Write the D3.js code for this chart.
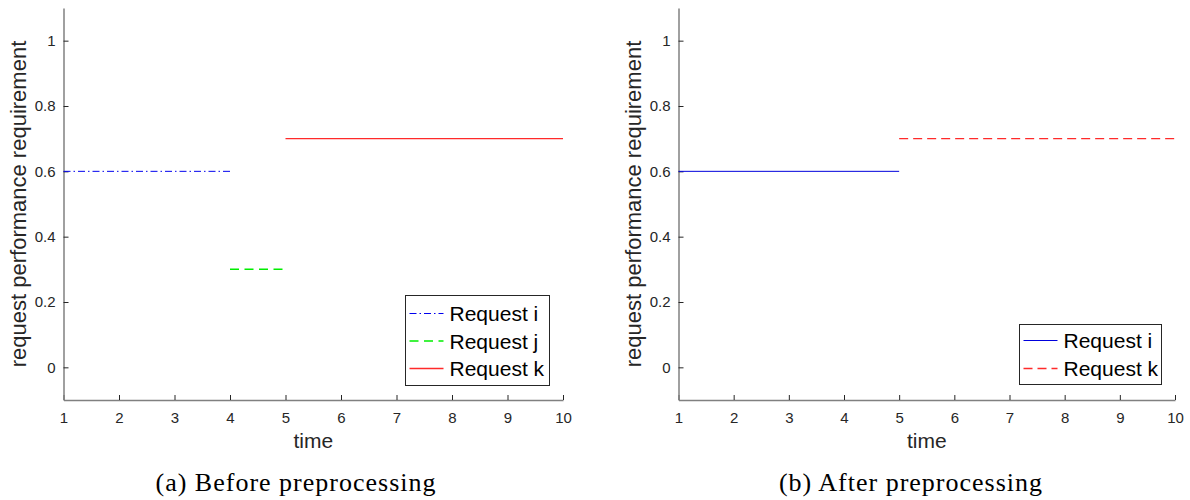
<!DOCTYPE html>
<html>
<head>
<meta charset="utf-8">
<script src="https://cdn.jsdelivr.net/npm/d3@7"></script>
<style>
  html, body { margin: 0; padding: 0; background: #fff; }
  svg { display: block; }
  .tick text { font-family: "Liberation Sans", Arial, sans-serif; font-size: 15px; fill: #262626; }
</style>
</head>
<body>
<svg id="chart" width="1190" height="500"></svg>
<script>
// Time ticks and performance ticks shared by both panels
const xTicks = [1, 2, 3, 4, 5, 6, 7, 8, 9, 10];
const yTicks = [0, 0.2, 0.4, 0.6, 0.8, 1];
const yTickLabels = ["0", "0.2", "0.4", "0.6", "0.8", "1"];

// Panel (a): requests before preprocessing — [start, end] time spans and requirement levels
const beforeNames = ["Request i", "Request j", "Request k"];
const beforeStart = [1, 4, 5];
const beforeEnd = [4, 5, 10];
const beforeLevel = [0.6, 0.3, 0.7];

// Panel (b): requests after preprocessing
const afterNames = ["Request i", "Request k"];
const afterStart = [1, 5];
const afterEnd = [5, 10];
const afterLevel = [0.6, 0.7];

const svg = d3.select("#chart");
const sans = "Liberation Sans, Arial, sans-serif";

function drawPanel(opts) {
  const { left, right, top, bottom, names, starts, ends, levels, styles, legend, caption, captionX } = opts;
  const x = d3.scaleLinear().domain([1, 10]).range([left, right]);
  const y = d3.scaleLinear().domain([-0.1, 1.1]).range([bottom, top]);
  const g = svg.append("g");

  // x axis with inward ticks
  const xAxis = d3.axisBottom(x).tickValues(xTicks).tickSizeInner(-5).tickSizeOuter(0).tickPadding(12)
    .tickFormat(d3.format("d"));
  const gx = g.append("g").attr("transform", `translate(0,${bottom})`).call(xAxis);
  gx.select(".domain").attr("stroke", "#808080").attr("stroke-width", 1.5);
  gx.selectAll(".tick line").attr("stroke", "#262626");

  // y axis with inward ticks
  const yAxis = d3.axisLeft(y).tickValues(yTicks).tickSizeInner(-5).tickSizeOuter(0).tickPadding(8)
    .tickFormat((d, i) => yTickLabels[i]);
  const gy = g.append("g").attr("transform", `translate(${left},0)`).call(yAxis);
  gy.select(".domain").attr("stroke", "#808080").attr("stroke-width", 1.5);
  gy.selectAll(".tick line").attr("stroke", "#262626");

  // axis titles
  g.append("text")
    .attr("x", (left + right) / 2).attr("y", bottom + 48)
    .attr("text-anchor", "middle")
    .style("font-family", sans).style("font-size", "21px").attr("fill", "#262626")
    .text("time");
  g.append("text")
    .attr("transform", `translate(${left - 38},${(top + bottom) / 2}) rotate(-90)`)
    .attr("text-anchor", "middle")
    .style("font-family", sans).style("font-size", "22px").attr("fill", "#262626")
    .text("request performance requirement");

  // request level segments
  g.append("g").selectAll("line").data(names).join("line")
    .attr("x1", (d, i) => x(starts[i])).attr("x2", (d, i) => x(ends[i]))
    .attr("y1", (d, i) => y(levels[i])).attr("y2", (d, i) => y(levels[i]))
    .attr("stroke", (d, i) => styles[i].color)
    .attr("stroke-width", (d, i) => styles[i].width)
    .attr("stroke-dasharray", (d, i) => styles[i].dash);

  // legend
  const lg = g.append("g");
  lg.append("rect")
    .attr("x", legend.x).attr("y", legend.y).attr("width", legend.w).attr("height", legend.h)
    .attr("fill", "#fff").attr("stroke", "#262626").attr("stroke-width", 1);
  names.forEach((name, i) => {
    const cy = legend.y + legend.first + i * legend.step;
    lg.append("line")
      .attr("x1", legend.x + 4).attr("x2", legend.x + 38)
      .attr("y1", cy).attr("y2", cy)
      .attr("stroke", styles[i].color).attr("stroke-width", styles[i].width)
      .attr("stroke-dasharray", styles[i].dash);
    lg.append("text")
      .attr("x", legend.x + 44).attr("y", cy + 7.5)
      .style("font-family", sans).style("font-size", "21px").attr("fill", "#000")
      .text(name);
  });

  // caption
  g.append("text")
    .attr("x", captionX).attr("y", 491)
    .attr("text-anchor", "middle")
    .style("font-family", "Liberation Serif, serif").style("font-size", "26px")
    .style("letter-spacing", "1px").attr("fill", "#000")
    .text(caption);
}

drawPanel({
  left: 63.5, right: 563, top: 8, bottom: 400,
  names: beforeNames, starts: beforeStart, ends: beforeEnd, levels: beforeLevel,
  styles: [
    { color: "#0000ee", width: 1, dash: "7,3,1.5,3" },
    { color: "#00ee00", width: 1.5, dash: "9,5.5" },
    { color: "#ff2a2a", width: 1.4, dash: null }
  ],
  legend: { x: 405.5, y: 295.5, w: 144, h: 90, first: 18, step: 27.5 },
  caption: "(a) Before preprocessing", captionX: 296
});

drawPanel({
  left: 678.5, right: 1175, top: 8, bottom: 400,
  names: afterNames, starts: afterStart, ends: afterEnd, levels: afterLevel,
  styles: [
    { color: "#0000dd", width: 1, dash: null },
    { color: "#ff2a2a", width: 1.4, dash: "9,5" }
  ],
  legend: { x: 1019.5, y: 324.5, w: 142, h: 60, first: 16, step: 28 },
  caption: "(b) After preprocessing", captionX: 911
});
</script>
</body>
</html>
